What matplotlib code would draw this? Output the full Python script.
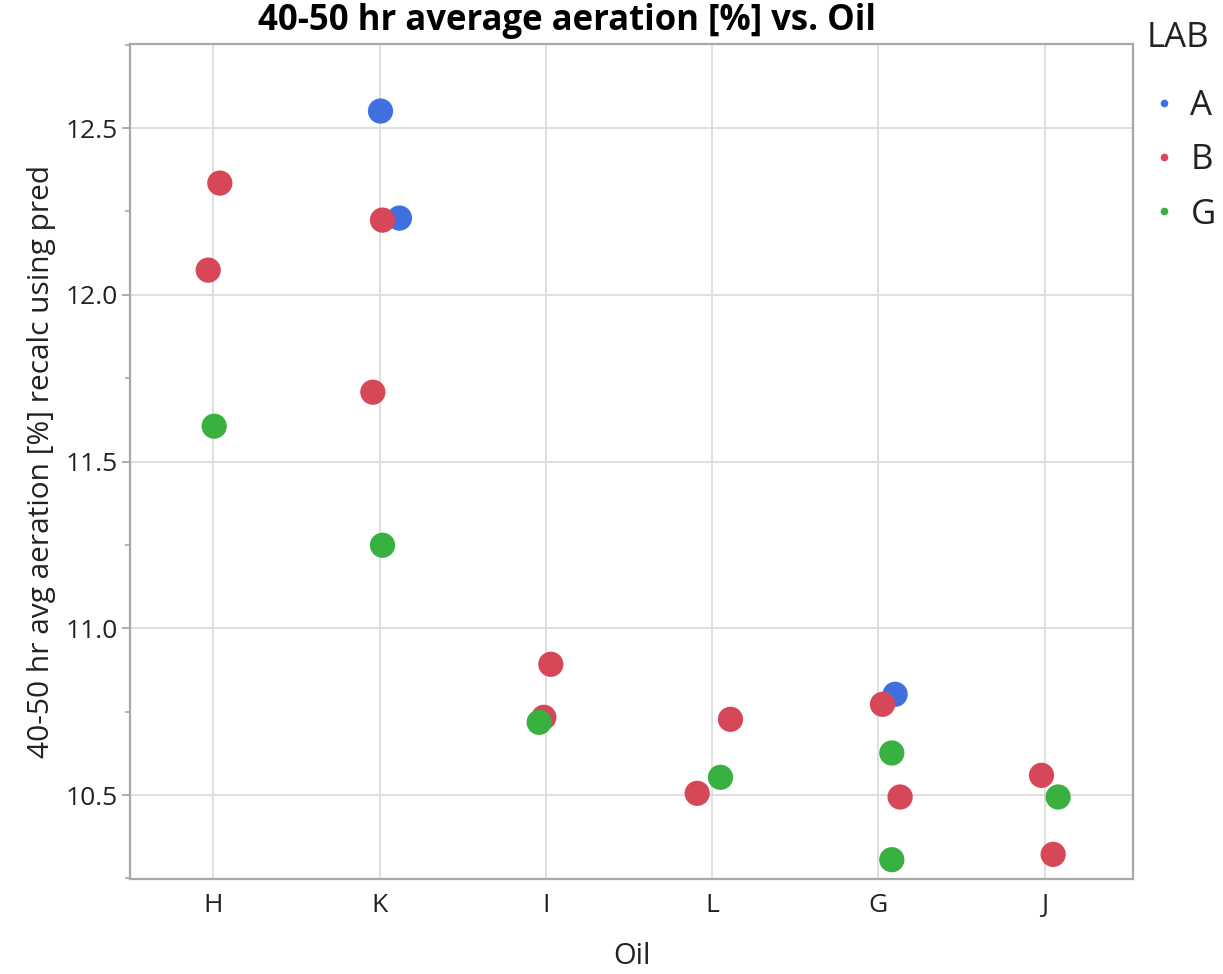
import numpy as np
import matplotlib.pyplot as plt
from matplotlib.lines import Line2D
from matplotlib.ticker import MultipleLocator

oils = ["H", "K", "I", "L", "G", "J"]

# one entry per point: oil, lab, value, horizontal jitter (in category units)
point_oil = ["H", "H", "H",
             "K", "K", "K", "K", "K",
             "I", "I", "I",
             "L", "L", "L",
             "G", "G", "G", "G", "G",
             "J", "J", "J"]
point_lab = ["B", "B", "G",
             "A", "A", "B", "B", "G",
             "B", "B", "G",
             "B", "G", "B",
             "A", "B", "G", "B", "G",
             "B", "G", "B"]
point_val = [12.335, 12.074, 11.606,
             12.551, 12.230, 12.224, 11.708, 11.249,
             10.892, 10.733, 10.718,
             10.727, 10.553, 10.505,
             10.802, 10.772, 10.626, 10.494, 10.306,
             10.559, 10.494, 10.322]
point_jit = [0.04, -0.03, 0.006,
             0.006, 0.12, 0.018, -0.04, 0.018,
             0.03, -0.012, -0.04,
             0.11, 0.05, -0.09,
             0.10, 0.024, 0.08, 0.13, 0.08,
             -0.02, 0.08, 0.05]

labs = ["A", "B", "G"]
lab_colors = {"A": "#4070E0", "B": "#D64858", "G": "#38B140"}

fig = plt.figure(figsize=(12.23, 9.74), dpi=100)
ax = fig.add_axes([0.1063, 0.0975, 0.8201, 0.8573])

font = "Open Sans"
spine_col = "#a8a8a8"
txt_col = "#222222"

xs = np.array([oils.index(o) for o in point_oil]) + np.array(point_jit)
cols = [lab_colors[l] for l in point_lab]
ax.scatter(xs, point_val, c=cols, s=330, edgecolors="none", zorder=3)

ax.set_xlim(-0.5, 5.53)
ax.set_ylim(10.248, 12.752)
ax.set_xticks(range(len(oils)))
ax.set_xticklabels(oils)
ax.set_yticks([10.5, 11.0, 11.5, 12.0, 12.5])
ax.set_yticklabels(["10.5", "11.0", "11.5", "12.0", "12.5"])
ax.yaxis.set_minor_locator(MultipleLocator(0.25))

ax.grid(True, which="major", color="#dcdcdc", linewidth=1.3, zorder=0)
ax.set_axisbelow(True)
for s in ax.spines.values():
    s.set_color(spine_col)
    s.set_linewidth(1.6)
ax.tick_params(axis="y", which="major", length=6, color=spine_col, width=1.3,
               pad=3, labelsize=19, labelcolor=txt_col)
ax.tick_params(axis="y", which="minor", length=3.5, color=spine_col, width=1.2)
ax.tick_params(axis="x", length=0, pad=10, labelsize=19, labelcolor=txt_col)
for lbl in ax.get_xticklabels() + ax.get_yticklabels():
    lbl.set_fontfamily(font)

ax.set_xlabel("Oil", fontsize=21, family=font, labelpad=17, color=txt_col)
ax.set_ylabel("40-50 hr avg aeration [%] recalc using pred", fontsize=21.5,
              family=font, labelpad=7, color=txt_col)

fig.text(567 / 1223, 1 - 21 / 974, "40-50 hr average aeration [%] vs. Oil",
         ha="center", va="center", fontsize=25, fontweight="bold", family=font)

# legend title drawn separately so the gap below it can be wider than between rows
fig.text(1147 / 1223, 1 - 38 / 974, "LAB", ha="left", va="center",
         fontsize=25, family=font, color=txt_col)
handles = [Line2D([], [], color=lab_colors[l], marker="o", markersize=4.5,
                  linestyle="None") for l in labs]
leg = fig.legend(handles, labs, loc="upper left",
                 bbox_to_anchor=(1147 / 1223, 1 - 89 / 974),
                 frameon=False, prop={"family": font, "size": 25},
                 handletextpad=0.25, labelspacing=0.585, handlelength=1.0,
                 borderpad=0, borderaxespad=0)
for t in leg.get_texts():
    t.set_color(txt_col)

fig.savefig("out.png", dpi=100)
